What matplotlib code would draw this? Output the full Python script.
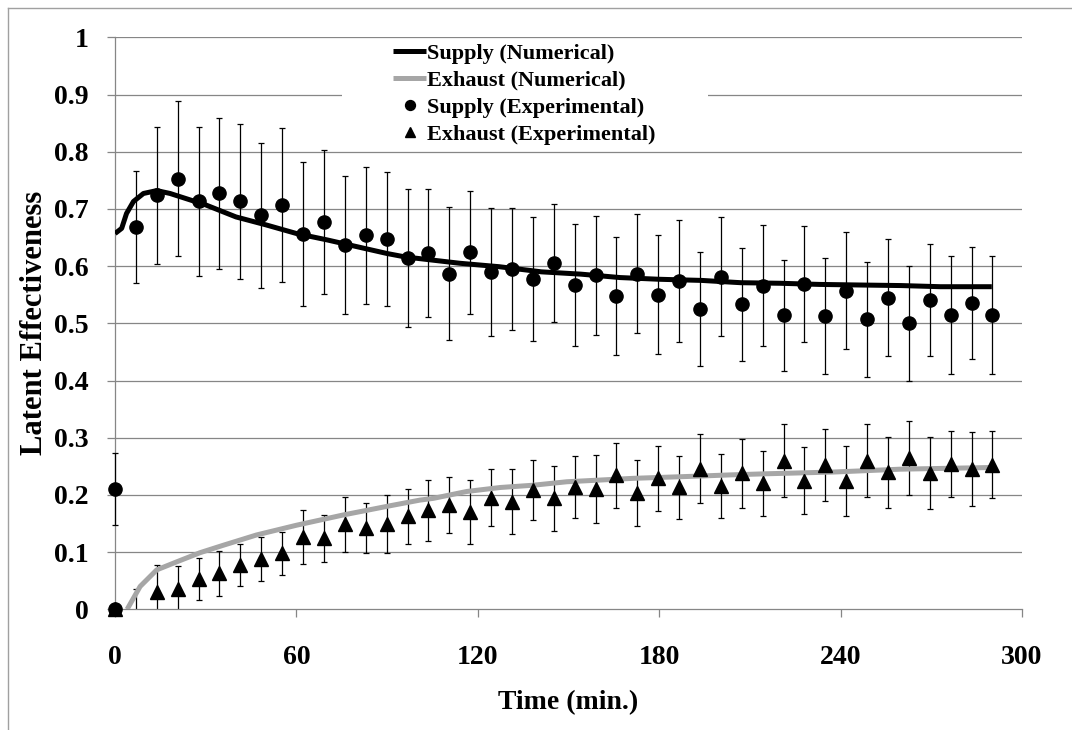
import numpy as np
import matplotlib
matplotlib.use("Agg")
import matplotlib.pyplot as plt
from matplotlib.lines import Line2D
from matplotlib.patches import Rectangle

plt.rcParams['font.family'] = ['Liberation Serif', 'DejaVu Serif']
plt.rcParams['font.weight'] = 'bold'

# numerical model curves (time in min.)
num_t_supply = [0, 2.2, 3.8, 6.1, 9.4, 13.8, 18.2, 30, 40, 50, 60, 70, 80, 90, 96,
                114, 127, 141, 154, 167, 180, 194, 207, 220, 233, 246, 260, 273, 290]
num_supply = [0.657, 0.666, 0.692, 0.713, 0.727, 0.732, 0.727, 0.707, 0.686, 0.672,
              0.657, 0.646, 0.634, 0.622, 0.616, 0.605, 0.599, 0.590, 0.586, 0.580,
              0.577, 0.575, 0.571, 0.570, 0.568, 0.567, 0.566, 0.564, 0.564]

num_t_exhaust = [4.0, 8.3, 13.8, 20.4, 28.1, 35.8, 46.8, 60, 75.5, 90.9, 100.9, 105.3,
                 116.3, 127.4, 138.4, 149.4, 160.4, 171.4, 182.5, 193.5, 203.4, 215.6,
                 237.6, 259.7, 290.5]
num_exhaust = [0.0, 0.040, 0.069, 0.083, 0.099, 0.112, 0.130, 0.147, 0.165, 0.181,
               0.191, 0.194, 0.206, 0.213, 0.217, 0.223, 0.226, 0.229, 0.231, 0.233,
               0.235, 0.237, 0.240, 0.245, 0.248]

# experimental measurements, one every 6.91 min
exp_t = [0, 6.91, 13.82, 20.73, 27.64, 34.55, 41.46, 48.37, 55.28, 62.19, 69.1,
         76.01, 82.92, 89.83, 96.74, 103.65, 110.56, 117.47, 124.38, 131.29, 138.2,
         145.11, 152.02, 158.93, 165.84, 172.75, 179.66, 186.57, 193.48, 200.39,
         207.3, 214.21, 221.12, 228.03, 234.94, 241.85, 248.76, 255.67, 262.58,
         269.49, 276.4, 283.31, 290.22]

exp_supply = [0.21, 0.669, 0.724, 0.753, 0.713, 0.727, 0.713, 0.689, 0.707, 0.656,
              0.677, 0.637, 0.654, 0.647, 0.614, 0.623, 0.587, 0.624, 0.589, 0.595,
              0.577, 0.606, 0.567, 0.584, 0.548, 0.587, 0.550, 0.574, 0.525, 0.581,
              0.533, 0.566, 0.514, 0.569, 0.513, 0.557, 0.507, 0.545, 0.500, 0.540,
              0.514, 0.536, 0.514]
err_supply = [0.063, 0.098, 0.12, 0.135, 0.13, 0.132, 0.135, 0.127, 0.134, 0.126,
              0.126, 0.121, 0.12, 0.117, 0.121, 0.112, 0.117, 0.107, 0.112, 0.106,
              0.108, 0.103, 0.107, 0.104, 0.103, 0.104, 0.104, 0.107, 0.1, 0.104,
              0.099, 0.106, 0.097, 0.102, 0.101, 0.102, 0.1, 0.103, 0.1, 0.098,
              0.103, 0.098, 0.103]

exp_exhaust = [0.0, -0.01, 0.030, 0.035, 0.053, 0.063, 0.078, 0.088, 0.098, 0.127,
               0.124, 0.149, 0.142, 0.149, 0.163, 0.173, 0.182, 0.170, 0.195, 0.188,
               0.209, 0.194, 0.214, 0.210, 0.234, 0.203, 0.229, 0.213, 0.246, 0.216,
               0.238, 0.220, 0.260, 0.225, 0.252, 0.225, 0.260, 0.240, 0.265, 0.238,
               0.254, 0.245, 0.253]
err_exhaust = [0.0, 0.045, 0.047, 0.04, 0.037, 0.039, 0.037, 0.039, 0.038, 0.047,
               0.041, 0.048, 0.044, 0.05, 0.048, 0.053, 0.049, 0.056, 0.05, 0.057,
               0.052, 0.057, 0.054, 0.059, 0.056, 0.058, 0.057, 0.055, 0.06, 0.056,
               0.06, 0.056, 0.064, 0.059, 0.063, 0.061, 0.064, 0.062, 0.065, 0.063,
               0.057, 0.065, 0.058]

# extra zero readings at start-up
start_t = [0]
start_supply = [0.0]

x_ticks = [0, 60, 120, 180, 240, 300]
y_ticks = [0, 0.1, 0.2, 0.3, 0.4, 0.5, 0.6, 0.7, 0.8, 0.9, 1.0]
y_ticklabels = ['0', '0.1', '0.2', '0.3', '0.4', '0.5', '0.6', '0.7', '0.8', '0.9', '1']

grey = '#868686'

fig = plt.figure(figsize=(10.72, 7.30), dpi=100)
ax = fig.add_axes([0.1073, 0.1653, 0.8461, 0.7836])

# outer chart frame
fig.add_artist(Line2D([8 / 1072, 1.0], [1 - 8 / 730] * 2, transform=fig.transFigure,
                      color='#a0a0a0', lw=1.0))
fig.add_artist(Line2D([8 / 1072] * 2, [0, 1 - 8 / 730], transform=fig.transFigure,
                      color='#a0a0a0', lw=1.0))

for y in y_ticks[1:]:
    ax.axhline(y, color=grey, lw=0.9, zorder=0)

sup_bars = ax.errorbar(exp_t, exp_supply, yerr=err_supply, fmt='none', ecolor='black',
                       elinewidth=0.9, capsize=2.5, capthick=0.9, zorder=2.7)
for art in sup_bars.lines[1] + sup_bars.lines[2]:
    art.set_clip_on(False)
ax.errorbar(exp_t, exp_exhaust, yerr=err_exhaust, fmt='none', ecolor='black',
            elinewidth=0.9, capsize=2.5, capthick=0.9, zorder=2)

l1, = ax.plot(num_t_supply, num_supply, color='black', lw=3.6, zorder=3,
              solid_capstyle='butt', label='Supply (Numerical)')
l2, = ax.plot(num_t_exhaust, num_exhaust, color='#a6a6a6', lw=3.6, zorder=3,
              solid_capstyle='butt', label='Exhaust (Numerical)')

# points below the axis are not shown
t = np.array(exp_t)
sup = np.array(exp_supply)
exh = np.array(exp_exhaust)
ax.plot(start_t, start_supply, 'o', color='black', ms=9.5, clip_on=False, zorder=5)
ax.plot(t[exh >= 0], exh[exh >= 0], '^', color='black', ms=10, clip_on=False, zorder=4)
m1, = ax.plot(t, sup, 'o', color='black', ms=9.5, clip_on=False, zorder=5,
              label='Supply (Experimental)')
m2 = Line2D([], [], ls='none', marker='^', color='black', ms=10,
            label='Exhaust (Experimental)')

ax.set_xlim(0, 300)
ax.set_ylim(0, 1)
ax.set_xticks(x_ticks)
ax.set_yticks(y_ticks)
ax.set_yticklabels(y_ticklabels)
ax.tick_params(axis='both', labelsize=20, color=grey, width=0.9, length=5.8)
ax.tick_params(axis='y', pad=13)
ax.tick_params(axis='x', pad=20)
for s in ['top', 'right']:
    ax.spines[s].set_visible(False)
for s in ['left', 'bottom']:
    ax.spines[s].set_color(grey)
    ax.spines[s].set_linewidth(0.9)

ax.set_xlabel('Time (min.)', fontsize=20, fontweight='bold', labelpad=14)
ax.set_ylabel('Latent Effectiveness', fontsize=22, fontweight='bold', labelpad=4)

# white backing behind the legend
ax.add_patch(Rectangle((0.25, 0.806), 0.404, 0.189, transform=ax.transAxes,
                       facecolor='white', edgecolor='none', zorder=1))
leg = ax.legend(handles=[l1, l2, m1, m2], loc='upper left', bbox_to_anchor=(0.3065, 0.99),
                frameon=False, fontsize=16, handlelength=1.5, handletextpad=0.05,
                labelspacing=0.3, borderpad=0, borderaxespad=0, markerscale=0.75)

fig.savefig('out.png', dpi=100)
